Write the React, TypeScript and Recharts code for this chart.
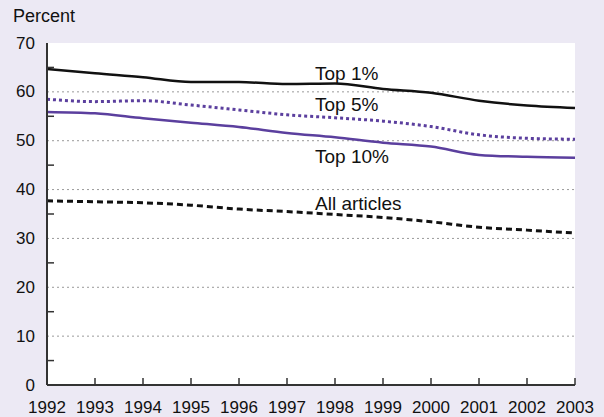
import { LineChart, Line, XAxis, YAxis, CartesianGrid, LabelList } from "recharts";

const years = [1992, 1993, 1994, 1995, 1996, 1997, 1998, 1999, 2000, 2001, 2002, 2003];
const top1 = [64.7, 63.8, 63.0, 62.0, 62.0, 61.6, 61.7, 60.6, 59.8, 58.2, 57.2, 56.7];
const top5 = [58.5, 58.0, 58.2, 57.3, 56.3, 55.3, 54.7, 54.0, 52.9, 51.2, 50.5, 50.3];
const top10 = [55.9, 55.6, 54.6, 53.7, 52.8, 51.6, 50.7, 49.6, 48.8, 47.1, 46.7, 46.5];
const allArticles = [37.7, 37.5, 37.3, 36.8, 36.0, 35.5, 34.9, 34.3, 33.4, 32.3, 31.7, 31.1];

const yTicks = [0, 5, 10, 15, 20, 25, 30, 35, 40, 45, 50, 55, 60, 65, 70];
const gridValues = [10, 20, 30, 40, 50, 60];

const data = years.map((year, i) => ({
  year,
  top1: top1[i],
  top5: top5[i],
  top10: top10[i],
  all: allArticles[i],
}));

const FONT = "'Liberation Sans', Arial, Helvetica, sans-serif";
const PURPLE = "#5b3f9e";
const BG = "#ece9f4";

function LeftTick({ x, y, payload }: any) {
  const v = payload.value;
  if (v % 10 === 0) {
    return (
      <text x={x - 12} y={y} textAnchor="end" dominantBaseline="central" fontSize={17} fontFamily={FONT} fill="#111">
        {v}
      </text>
    );
  }
  return <line x1={x} x2={x + 7} y1={y} y2={y} stroke="#333" strokeWidth={1.5} />;
}

function RightTick({ x, y, payload }: any) {
  if (payload.value % 10 === 0) return <g />;
  return <line x1={x} x2={x - 7} y1={y} y2={y} stroke="#222" strokeWidth={1.5} />;
}

function BottomTick({ x, y, payload }: any) {
  return (
    <g>
      <line x1={x} x2={x} y1={y} y2={y - 7} stroke="#333" strokeWidth={1.5} />
      <text x={x} y={y + 22} textAnchor="middle" dominantBaseline="central" fontSize={17} fontFamily={FONT} fill="#111">
        {payload.value}
      </text>
    </g>
  );
}

// series name written next to the 1998 point
function seriesLabel(text: string, dy: number) {
  return (props: any) => {
    if (props.index !== 6) return null;
    return (
      <text x={props.x - 20} y={props.y + dy} dominantBaseline="central" fontSize={19} fontFamily={FONT} fill="#111">
        {text}
      </text>
    );
  };
}

export default function App() {
  return (
    <div style={{ position: "absolute", left: 0, top: 0, width: 604, height: 417, background: BG }}>
      <div
        style={{
          position: "absolute",
          left: 13,
          top: 6,
          fontSize: 18,
          lineHeight: "20px",
          fontFamily: FONT,
          color: "#111",
        }}
      >
        Percent
      </div>
      <LineChart width={604} height={417} data={data} margin={{ top: 43, right: 29, left: 0, bottom: 0 }}>
        <CartesianGrid
          horizontalValues={gridValues}
          vertical={false}
          stroke="#9a9a9a"
          strokeDasharray="2 3"
          fill="#ffffff"
          fillOpacity={1}
        />
        <XAxis
          dataKey="year"
          type="number"
          domain={[1992, 2003]}
          ticks={years}
          interval={0}
          height={32}
          tickLine={false}
          tickSize={0}
          tickMargin={0}
          tick={BottomTick}
          axisLine={{ stroke: "#333", strokeWidth: 2 }}
        />
        <XAxis
          xAxisId="top"
          orientation="top"
          dataKey="year"
          type="number"
          domain={[1992, 2003]}
          height={0}
          tick={false}
          tickLine={false}
          axisLine={{ stroke: "#222", strokeWidth: 1.5 }}
        />
        <YAxis
          domain={[0, 70]}
          ticks={yTicks}
          interval={0}
          width={47}
          tickLine={false}
          tickSize={0}
          tickMargin={0}
          tick={LeftTick}
          axisLine={{ stroke: "#333", strokeWidth: 2 }}
        />
        <YAxis
          yAxisId="right"
          orientation="right"
          domain={[0, 70]}
          ticks={yTicks}
          interval={0}
          width={0}
          tickLine={false}
          tickSize={0}
          tickMargin={0}
          tick={RightTick}
          axisLine={{ stroke: "#222", strokeWidth: 1.5 }}
        />
        <Line type="monotone" dataKey="top1" stroke="#111" strokeWidth={2.5} dot={false} isAnimationActive={false}>
          <LabelList dataKey="top1" content={seriesLabel("Top 1%", -10)} />
        </Line>
        <Line type="monotone" dataKey="top5" stroke={PURPLE} strokeWidth={3} strokeDasharray="3 3" dot={false} isAnimationActive={false}>
          <LabelList dataKey="top5" content={seriesLabel("Top 5%", -13)} />
        </Line>
        <Line type="monotone" dataKey="top10" stroke={PURPLE} strokeWidth={2.5} dot={false} isAnimationActive={false}>
          <LabelList dataKey="top10" content={seriesLabel("Top 10%", 19)} />
        </Line>
        <Line type="monotone" dataKey="all" stroke="#111" strokeWidth={3} strokeDasharray="6 4" dot={false} isAnimationActive={false}>
          <LabelList dataKey="all" content={seriesLabel("All articles", -11)} />
        </Line>
      </LineChart>
    </div>
  );
}
